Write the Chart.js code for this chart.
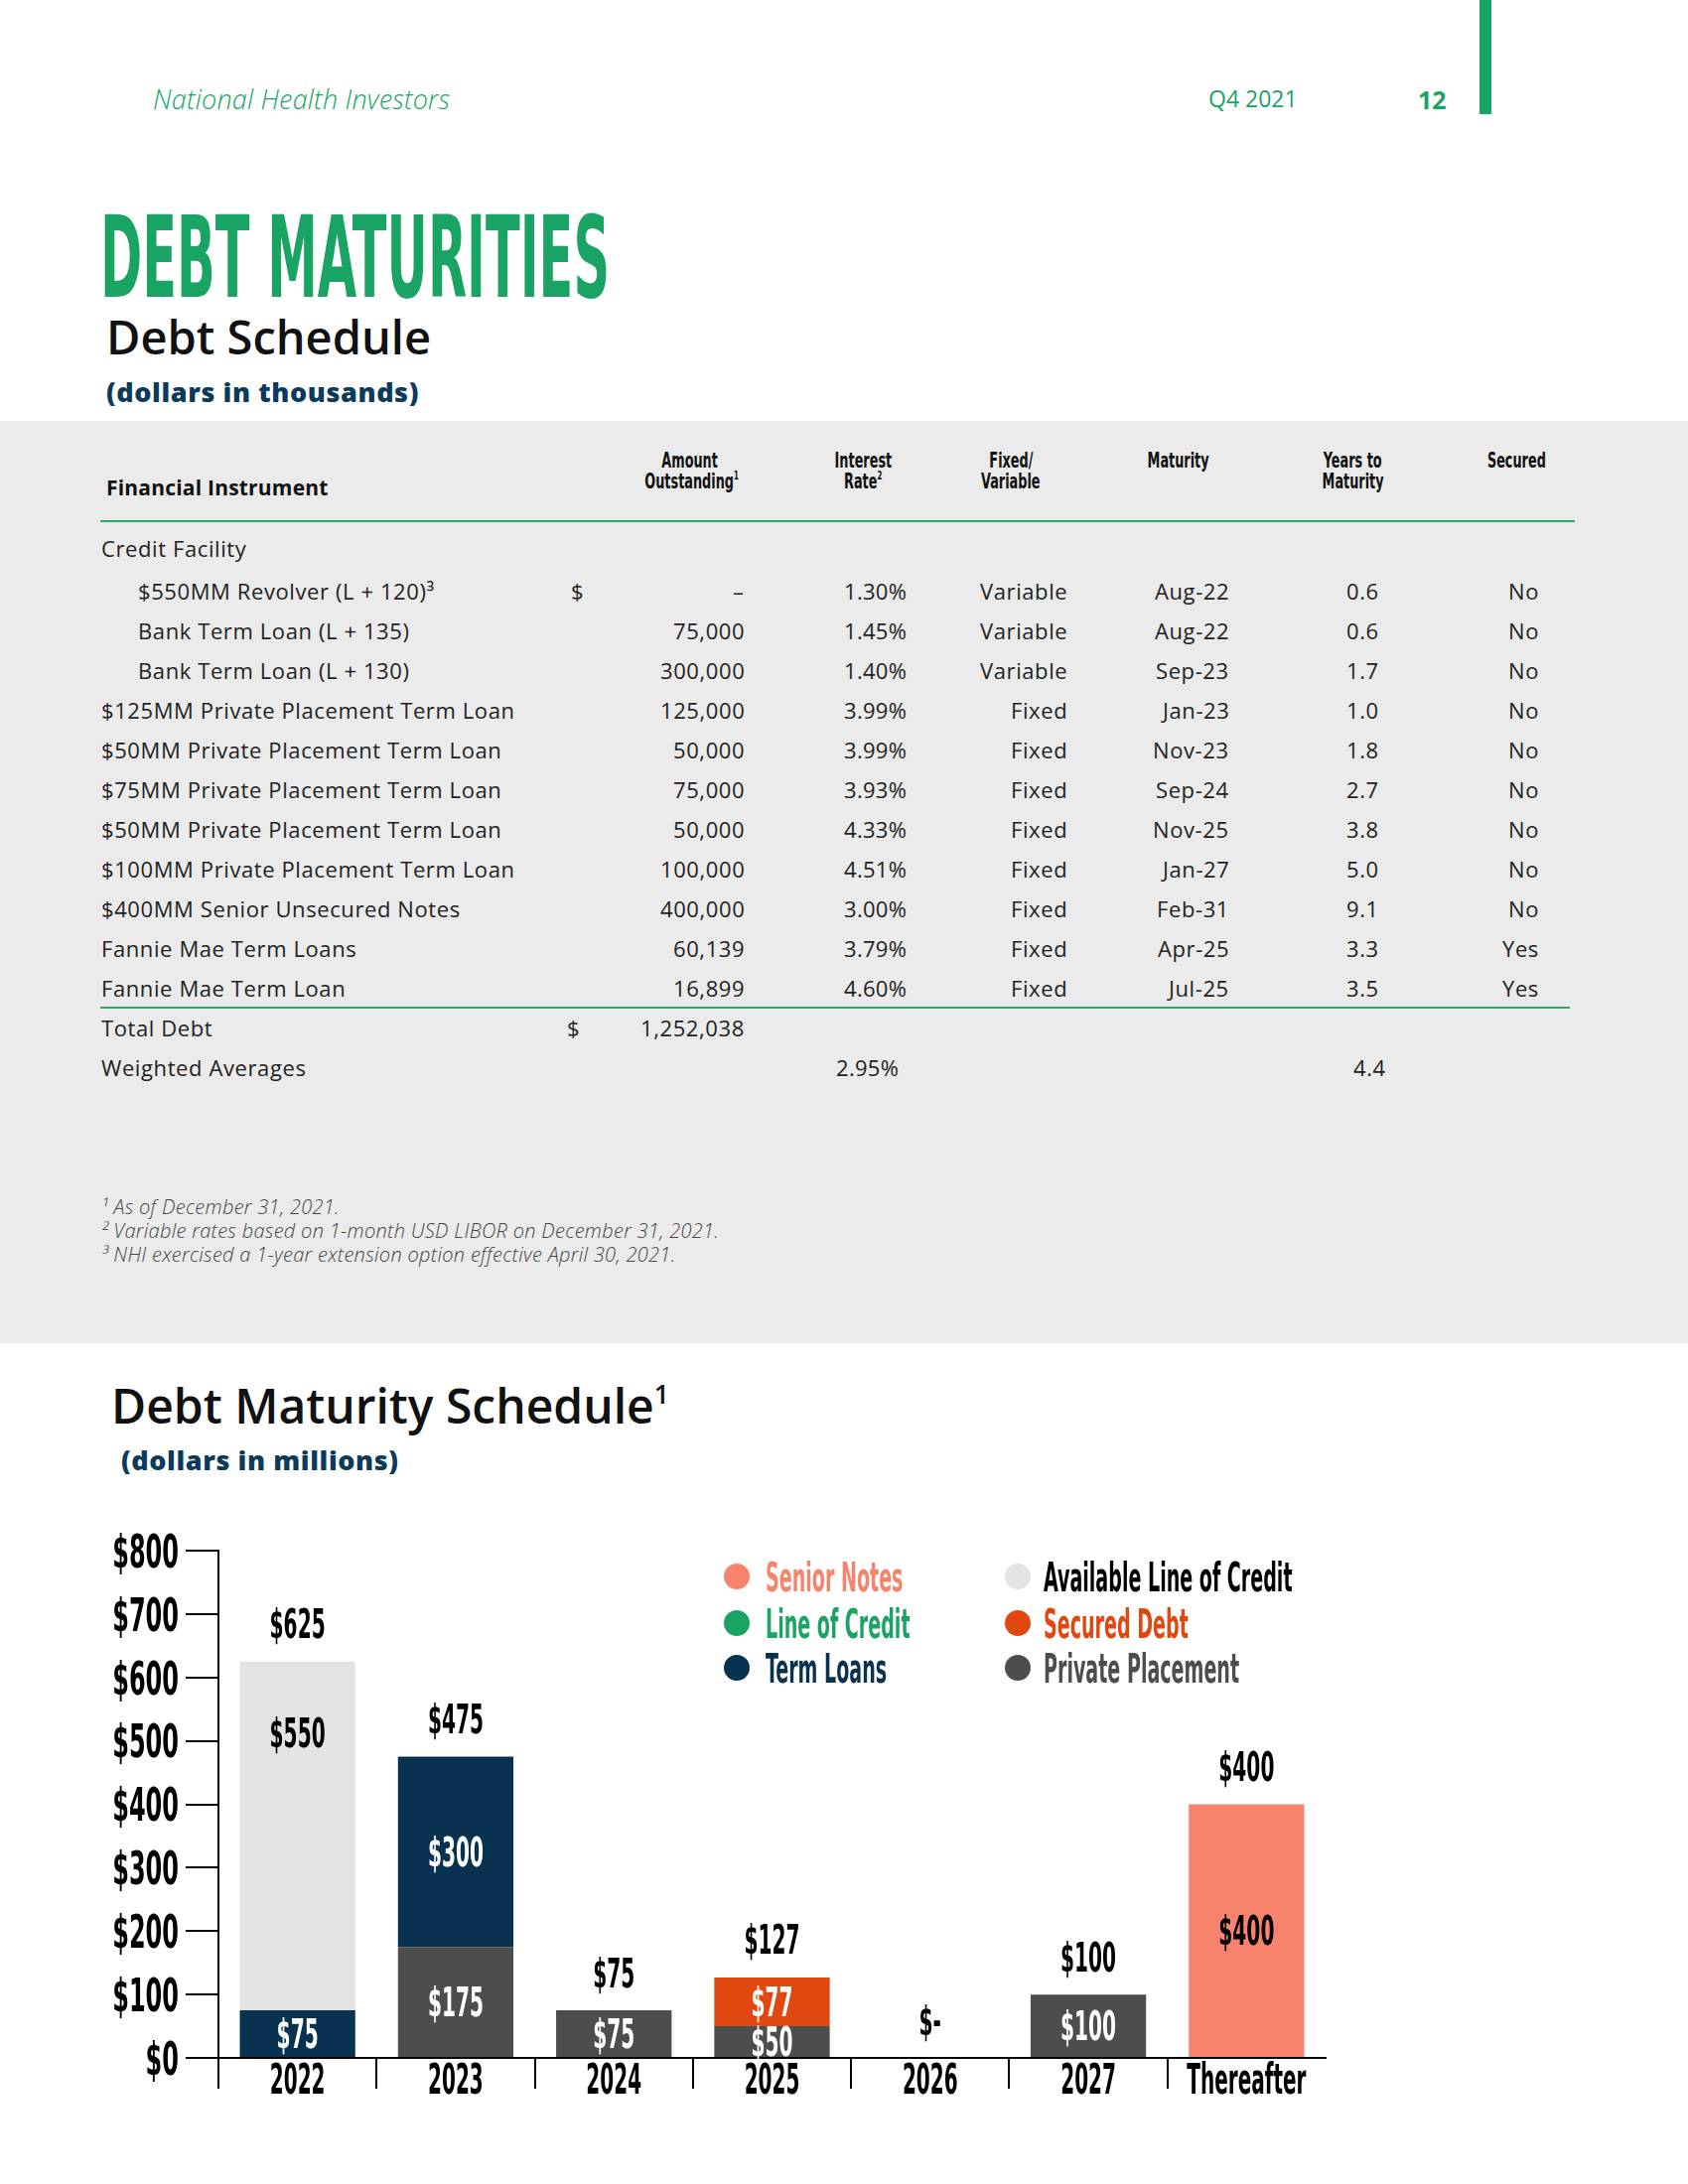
<!DOCTYPE html>
<html>
<head>
<meta charset="utf-8">
<title>Debt Maturities</title>
<script src="https://cdn.jsdelivr.net/npm/chart.js@4.4.1/dist/chart.umd.min.js"></script>
<style>
  html, body { margin: 0; padding: 0; }
  body { width: 1700px; height: 2200px; position: relative; overflow: hidden; background: #fff;
         font-family: "Open Sans", "DejaVu Sans", sans-serif; color: #222; }
  .t { position: absolute; white-space: nowrap; line-height: 1; }
  .cond { font-family: "DejaVu Sans Condensed", "DejaVu Sans", sans-serif; font-weight: bold; }
  .sup { font-size: 0.55em; vertical-align: 0.75em; line-height: 0; }
  #panel { position: absolute; left: 0; top: 424px; width: 1700px; height: 929px; background: #ebebeb; }
  .rule { position: absolute; height: 2px; background: #2aa86b; }
  #chartBox { position: absolute; left: 100px; top: 1530px; width: 1300px; height: 620px; }
</style>
</head>
<body>
<div id="panel"></div>
<div style="position:absolute;left:1490px;top:0;width:12px;height:115px;background:#19a463"></div>
<div class="rule" style="left:101px;top:524px;width:1485px"></div>
<div class="rule" style="left:101px;top:1014px;width:1480px"></div>
<div id="chartBox"><canvas id="maturityChart" width="1300" height="620"></canvas></div>

<script>
// ---- Debt schedule table (dollars in thousands)
const rowNames = [
  "$550MM Revolver (L + 120)³",
  "Bank Term Loan (L + 135)",
  "Bank Term Loan (L + 130)",
  "$125MM Private Placement Term Loan",
  "$50MM Private Placement Term Loan",
  "$75MM Private Placement Term Loan",
  "$50MM Private Placement Term Loan",
  "$100MM Private Placement Term Loan",
  "$400MM Senior Unsecured Notes",
  "Fannie Mae Term Loans",
  "Fannie Mae Term Loan",
];
const rowIndent = [1, 1, 1, 0, 0, 0, 0, 0, 0, 0, 0];
const amounts = ["–", "75,000", "300,000", "125,000", "50,000", "75,000", "50,000", "100,000", "400,000", "60,139", "16,899"];
const rates = ["1.30%", "1.45%", "1.40%", "3.99%", "3.99%", "3.93%", "4.33%", "4.51%", "3.00%", "3.79%", "4.60%"];
const rateTypes = ["Variable", "Variable", "Variable", "Fixed", "Fixed", "Fixed", "Fixed", "Fixed", "Fixed", "Fixed", "Fixed"];
const maturities = ["Aug-22", "Aug-22", "Sep-23", "Jan-23", "Nov-23", "Sep-24", "Nov-25", "Jan-27", "Feb-31", "Apr-25", "Jul-25"];
const yearsToMaturity = ["0.6", "0.6", "1.7", "1.0", "1.8", "2.7", "3.8", "5.0", "9.1", "3.3", "3.5"];
const securedFlags = ["No", "No", "No", "No", "No", "No", "No", "No", "No", "Yes", "Yes"];
const totalDebt = "1,252,038";
const weightedRate = "2.95%";
const weightedYears = "4.4";
const footnotes = [
  "¹ As of December 31, 2021.",
  "² Variable rates based on 1-month USD LIBOR on December 31, 2021.",
  "³ NHI exercised a 1-year extension option effective April 30, 2021.",
];

// ---- Debt maturity chart (dollars in millions)
const categories = ["2022", "2023", "2024", "2025", "2026", "2027", "Thereafter"];
const privatePlacement = [0, 175, 75, 50, 0, 100, 0];
const termLoans = [75, 300, 0, 0, 0, 0, 0];
const securedDebt = [0, 0, 0, 77, 0, 0, 0];
const availableLineOfCredit = [550, 0, 0, 0, 0, 0, 0];
const seniorNotes = [0, 0, 0, 0, 0, 0, 400];
const lineOfCredit = [0, 0, 0, 0, 0, 0, 0];
const yTickValues = [0, 100, 200, 300, 400, 500, 600, 700, 800];
const legendColumns = [
  ["Senior Notes", "Line of Credit", "Term Loans"],
  ["Available Line of Credit", "Secured Debt", "Private Placement"],
];

// text helper, y is the visual middle of the capitals
function put(html, x, y, o) {
  o = o || {};
  const size = o.size || 22;
  const el = document.createElement("div");
  el.className = "t" + (o.cls ? " " + o.cls : "");
  el.innerHTML = html;
  el.style.fontSize = size + "px";
  if (o.weight) el.style.fontWeight = o.weight;
  if (o.italic) el.style.fontStyle = "italic";
  if (o.color) el.style.color = o.color;
  if (o.ls !== undefined) el.style.letterSpacing = o.ls + "px";
  const mid = o.cls === "cond" ? 0.48 : 0.53;
  el.style.top = (y - mid * size) + "px";
  document.body.appendChild(el);
  const w = el.offsetWidth;
  let sx = o.sx || 1;
  if (o.width) sx = o.width / w;
  const align = o.align || "left";
  if (align === "left") {
    el.style.left = x + "px";
    el.style.transformOrigin = "0 0";
  } else if (align === "right") {
    el.style.left = (x - w) + "px";
    el.style.transformOrigin = "100% 0";
  } else {
    el.style.left = (x - w / 2) + "px";
    el.style.transformOrigin = "50% 0";
  }
  if (sx !== 1) el.style.transform = "scaleX(" + sx + ")";
  return el;
}

const GREEN = "#19a463";
const NAVY = "#0b3a5a";
const body = { ls: 0.6 };

// page header
put("National Health Investors", 154, 100, { size: 27, italic: true, weight: 300, color: GREEN, ls: 0.2 });
put("Q4 2021", 1217, 100, { size: 23, color: GREEN });
put("12", 1428, 101, { size: 25, weight: 700, color: GREEN });

put("DEBT MATURITIES", 101, 258, { size: 114, cls: "cond", color: GREEN, width: 513 });
put("Debt Schedule", 107, 341, { size: 47, weight: 600, color: "#111" });
put("(dollars in thousands)", 107, 395, { size: 27, weight: 800, color: NAVY, ls: 0.6 });

// table header
const hdr = { size: 21, cls: "cond", align: "center", sx: 0.68, color: "#111" };
put("Financial Instrument", 107, 492, { size: 21, weight: 700, color: "#111", ls: 0.2 });
put("Amount", 694, 464, hdr);
put('Outstanding<span class="sup">1</span>', 696, 485, hdr);
put("Interest", 869, 464, hdr);
put('Rate<span class="sup">2</span>', 869, 485, hdr);
put("Fixed/", 1018, 464, hdr);
put("Variable", 1018, 485, hdr);
put("Maturity", 1186, 464, hdr);
put("Years to", 1362, 464, hdr);
put("Maturity", 1362, 485, hdr);
put("Secured", 1527, 464, hdr);

// table body
put("Credit Facility", 102, 553, body);
rowNames.forEach((name, i) => {
  const y = 596 + 40 * i;
  put(name, rowIndent[i] ? 139 : 102, y, body);
  if (i === 0) put("$", 575, y, body);
  put(amounts[i], 750, y, { align: "right", ls: 0.6 });
  put(rates[i], 913, y, { align: "right", ls: 0.3 });
  put(rateTypes[i], 1075, y, { align: "right", ls: 0.6 });
  put(maturities[i], 1238, y, { align: "right", ls: 0.6 });
  put(yearsToMaturity[i], 1389, y, { align: "right", ls: 0.6 });
  put(securedFlags[i], 1550, y, { align: "right", ls: 0.6 });
});
put("Total Debt", 102, 1036, body);
put("$", 571, 1036, body);
put(totalDebt, 750, 1036, { align: "right", ls: 0.6 });
put("Weighted Averages", 102, 1076, body);
put(weightedRate, 905, 1076, { align: "right", ls: 0.3 });
put(weightedYears, 1396, 1076, { align: "right", ls: 0.6 });

footnotes.forEach((f, i) => {
  put(f, 102, 1217 + 24 * i, { size: 20, italic: true, weight: 300, color: "#444", ls: 0.3 });
});

// chart titles
put('Debt Maturity Schedule<span class="sup">1</span>', 112, 1417, { size: 48, weight: 600, color: "#111" });
put("(dollars in millions)", 122, 1471, { size: 27, weight: 800, color: NAVY, ls: 0.6 });

// condensed canvas text: y is the middle of the capitals
function condText(ctx, text, x, y, size, color, align, sx) {
  ctx.save();
  ctx.font = 'bold ' + size + 'px "DejaVu Sans Condensed", "DejaVu Sans", sans-serif';
  ctx.fillStyle = color;
  ctx.textBaseline = "alphabetic";
  ctx.textAlign = align;
  ctx.translate(x, y + 0.365 * size);
  ctx.scale(sx, 1);
  ctx.fillText(text, 0, 0);
  ctx.restore();
}

const paintPlugin = {
  id: "paint",
  afterDraw(chart) {
    const ctx = chart.ctx;
    const xs = chart.scales.x;
    const ys = chart.scales.y;

    // y axis labels
    ys.ticks.forEach(t => {
      condText(ctx, "$" + t.value, 80, ys.getPixelForValue(t.value), 46, "#000", "right", 0.58);
    });
    // category labels
    categories.forEach((c, i) => {
      condText(ctx, c, xs.getPixelForValue(i), 564, 42, "#000", "center", 0.53);
    });
    // segment labels
    chart.data.datasets.forEach((ds, di) => {
      const meta = chart.getDatasetMeta(di);
      meta.data.forEach((bar, i) => {
        const v = ds.data[i];
        if (!v) return;
        const cy = ds.labelTop ? bar.y + ds.labelTop : (bar.y + bar.base) / 2;
        condText(ctx, "$" + v, bar.x, cy, 40, ds.labelColor, "center", 0.56);
      });
    });
    // totals above bars
    categories.forEach((c, i) => {
      const total = chart.data.datasets.reduce((s, ds) => s + ds.data[i], 0);
      const ty = ys.getPixelForValue(total) - 38;
      condText(ctx, total ? "$" + total : "$-", xs.getPixelForValue(i), ty, 40, "#000", "center", 0.56);
    });

    // legend, two columns
    const colDot = [642, 925];
    const colText = [671, 951];
    const rowY = [58, 105, 150];
    legendColumns.forEach((col, ci) => {
      col.forEach((name, ri) => {
        const ds = chart.data.datasets.find(d => d.label === name);
        ctx.beginPath();
        ctx.arc(colDot[ci], rowY[ri], 13, 0, Math.PI * 2);
        ctx.fillStyle = ds.backgroundColor;
        ctx.fill();
        condText(ctx, name, colText[ci], rowY[ri], 40, ds.legendColor, "left", 0.53);
      });
    });
  }
};

const chartCtx = document.getElementById("maturityChart");

new Chart(chartCtx, {
  type: "bar",
  data: {
    labels: categories,
    datasets: [
      { label: "Private Placement", data: privatePlacement, backgroundColor: "#4d4d4d", labelColor: "#fff", legendColor: "#4d4d4d" },
      { label: "Term Loans", data: termLoans, backgroundColor: "#08324f", labelColor: "#fff", legendColor: "#08324f" },
      { label: "Secured Debt", data: securedDebt, backgroundColor: "#e0480f", labelColor: "#fff", legendColor: "#e0480f" },
      { label: "Available Line of Credit", data: availableLineOfCredit, backgroundColor: "#e3e3e3", labelColor: "#000", legendColor: "#000", labelTop: 72 },
      { label: "Senior Notes", data: seniorNotes, backgroundColor: "#f8836c", labelColor: "#000", legendColor: "#f8836c" },
      { label: "Line of Credit", data: lineOfCredit, backgroundColor: "#1aa463", labelColor: "#fff", legendColor: "#1aa463" },
    ],
  },
  options: {
    responsive: false,
    animation: false,
    devicePixelRatio: 1,
    layout: { padding: { top: 32, right: 65, left: 0, bottom: 0 } },
    datasets: { bar: { categoryPercentage: 1, barPercentage: 0.73 } },
    plugins: { legend: { display: false }, tooltip: { enabled: false } },
    scales: {
      x: {
        stacked: true,
        ticks: { display: false },
        grid: {
          offset: true,
          drawOnChartArea: false,
          drawTicks: true,
          tickLength: 31,
          lineWidth: 2,
          color: (c) => (c.index !== undefined && c.index < categories.length ? "#000" : "rgba(0,0,0,0)"),
        },
        border: { display: true, color: "#000", width: 2 },
        afterFit: (s) => { s.height = 77; },
      },
      y: {
        stacked: true,
        min: 0,
        max: 800,
        ticks: { display: false },
        afterBuildTicks: (s) => { s.ticks = yTickValues.map(v => ({ value: v })); },
        grid: { drawOnChartArea: false, drawTicks: true, tickLength: 33, lineWidth: 2, color: "#000" },
        border: { display: true, color: "#000", width: 2 },
        afterFit: (s) => { s.width = 120; },
      },
    },
  },
  plugins: [paintPlugin],
});
</script>
</body>
</html>
